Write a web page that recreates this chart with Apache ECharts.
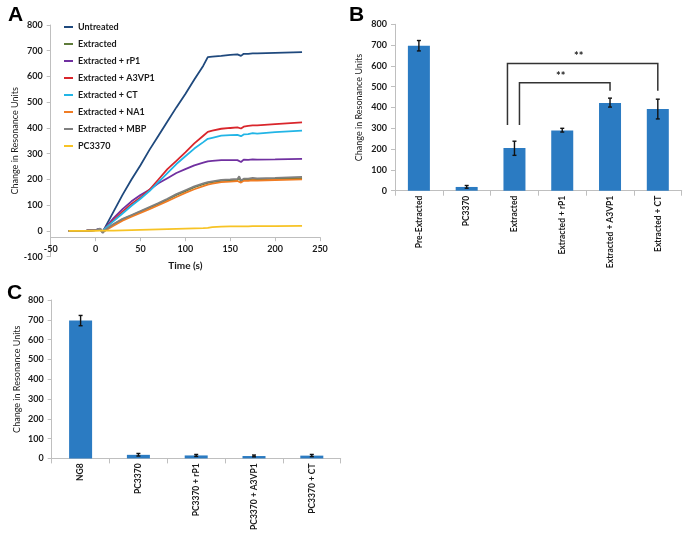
<!DOCTYPE html>
<html>
<head>
<meta charset="utf-8">
<script src="https://cdn.jsdelivr.net/npm/echarts@6/dist/echarts.min.js"></script>
<style>
  html, body { margin: 0; padding: 0; background: #fff; }
  #main { width: 683px; height: 533px; }
</style>
</head>
<body>
<div id="main"></div>
<script>
// panel A - sensorgram traces
var times      = [-30, -20, -10, 0, 5, 8, 10, 20, 30, 40, 50, 60, 70, 80, 90, 100, 110, 120, 125, 130, 140, 150, 158, 160, 162, 165, 170, 175, 177, 180, 200, 230];
var untreated  = [0, 0, 1, 3, 8, -4, 10, 75, 140, 200, 255, 315, 370, 425, 480, 532, 588, 642, 675, 677, 680, 684, 686, 692, 680, 688, 688, 690, 686, 690, 692, 695];
var extracted  = [0, 0, 1, 3, 6, -5, 2, 25, 45, 60, 75, 90, 105, 122, 140, 155, 170, 182, 187, 190, 195, 197, 198, 206, 192, 199, 199, 201, 197, 200, 202, 205];
var extRP1     = [0, 0, 1, 3, 9, -3, 8, 50, 85, 115, 140, 160, 185, 205, 225, 240, 255, 265, 270, 272, 275, 275, 275, 280, 268, 277, 276, 278, 273, 277, 278, 280];
var extA3VP1   = [0, 0, 1, 3, 8, -3, 8, 42, 75, 105, 130, 160, 200, 240, 272, 305, 340, 370, 385, 390, 397, 400, 402, 408, 398, 405, 408, 410, 405, 410, 415, 422];
var extCT      = [0, 0, 1, 3, 8, -3, 8, 38, 68, 98, 125, 155, 190, 225, 260, 290, 320, 345, 358, 362, 370, 372, 373, 378, 368, 375, 376, 380, 374, 378, 384, 390];
var extNA1     = [0, 0, 1, 3, 6, -4, 0, 20, 40, 55, 70, 85, 100, 116, 132, 148, 162, 174, 180, 184, 190, 192, 194, 200, 188, 195, 195, 197, 193, 196, 198, 200];
var extMBP     = [0, 0, 1, 3, 6, -8, 3, 27, 47, 62, 77, 93, 108, 125, 143, 158, 173, 185, 190, 193, 198, 200, 202, 212, 196, 203, 203, 206, 200, 204, 206, 210];
var pc3370     = [0, 0, 0, 0, 1, 1, 0, 1, 2, 3, 4, 5, 6, 7, 8, 9, 10, 11, 12, 15, 17, 18, 18, 18, 18, 18, 18, 19, 19, 19, 19, 20];
var traceNames = ['Untreated', 'Extracted', 'Extracted + rP1', 'Extracted + A3VP1', 'Extracted + CT', 'Extracted + NA1', 'Extracted + MBP', 'PC3370'];
var traces     = [untreated, extracted, extRP1, extA3VP1, extCT, extNA1, extMBP, pc3370];
var traceColors = ['#1F497D', '#5E7B3A', '#7030A0', '#D9262C', '#22B5E6', '#F07C24', '#808080', '#F7C325'];

// panel B
var catsB  = ['Pre-Extracted', 'PC3370', 'Extracted', 'Extracted + rP1', 'Extracted + A3VP1', 'Extracted + CT'];
var meanB  = [697, 18, 205, 290, 422, 393];
var lowB   = [672, 12, 170, 282, 402, 345];
var highB  = [722, 25, 238, 300, 445, 440];
// brackets: [from index, to index, top value, left foot, right foot]
var bracketsB = [[2, 5, 612, 316, 480], [2, 4, 519, 316, 480]];

// panel C
var catsC  = ['NG8', 'PC3370', 'PC3370 + rP1', 'PC3370 + A3VP1', 'PC3370 + CT'];
var meanC  = [697, 18, 15, 12, 14];
var lowC   = [670, 12, 10, 8, 9];
var highC  = [722, 25, 20, 17, 20];

var FONT = 'Lato, "Open Sans", sans-serif';
var tickText = { color: '#1a1a1a', fontSize: 9, fontWeight: 'bold', fontFamily: FONT };
var axisGray = { lineStyle: { color: '#BFBFBF', width: 1 } };
var barColor = '#2B7BC2';

function valueAxis(grid, min, max) {
    return {
        type: 'value', gridIndex: grid, min: min, max: max, interval: 100,
        name: 'Change in Resonance Units', nameLocation: 'middle', nameGap: 30,
        nameTextStyle: { color: '#1a1a1a', fontSize: 9, fontFamily: FONT },
        axisLine: { show: true, onZero: false, lineStyle: axisGray.lineStyle },
        axisTick: { show: true, length: 4, lineStyle: axisGray.lineStyle },
        axisLabel: Object.assign({ margin: 8 }, tickText),
        splitLine: { show: false }
    };
}

function catAxis(grid, cats) {
    return {
        type: 'category', gridIndex: grid, data: cats,
        axisLine: { show: true, lineStyle: axisGray.lineStyle },
        axisTick: { show: true, length: 5, lineStyle: axisGray.lineStyle },
        axisLabel: Object.assign({ rotate: 90, margin: 5, interval: 0 }, tickText, { fontSize: 8.5 }),
        splitLine: { show: false }
    };
}

function errorBars(xi, yi, low, high) {
    return {
        type: 'custom', xAxisIndex: xi, yAxisIndex: yi, z: 10, silent: true,
        data: low.map(function (v, i) { return [i, v, high[i]]; }),
        renderItem: function (params, api) {
            var lo = api.coord([api.value(0), api.value(1)]);
            var hi = api.coord([api.value(0), api.value(2)]);
            var st = { stroke: '#111', lineWidth: 1.4 };
            return {
                type: 'group', children: [
                    { type: 'line', shape: { x1: lo[0], y1: lo[1], x2: hi[0], y2: hi[1] }, style: st },
                    { type: 'line', shape: { x1: hi[0] - 2, y1: hi[1], x2: hi[0] + 2, y2: hi[1] }, style: st },
                    { type: 'line', shape: { x1: lo[0] - 2, y1: lo[1], x2: lo[0] + 2, y2: lo[1] }, style: st }
                ]
            };
        }
    };
}

var lineSeries = traces.map(function (arr, k) {
    return {
        name: traceNames[k], type: 'line', xAxisIndex: 0, yAxisIndex: 0,
        showSymbol: false, symbol: 'none', smooth: false,
        lineStyle: { color: traceColors[k], width: 1.8 },
        itemStyle: { color: traceColors[k] },
        data: times.map(function (t, i) { return [t, arr[i]]; })
    };
});

var option = {
    backgroundColor: '#fff',
    animation: false,
    title: [
        { text: 'A', left: 3, top: 0, textStyle: { fontSize: 21, fontWeight: 'bold', color: '#000', fontFamily: '"Liberation Sans", Arial, sans-serif' } },
        { text: 'B', left: 344, top: 0, textStyle: { fontSize: 21, fontWeight: 'bold', color: '#000', fontFamily: '"Liberation Sans", Arial, sans-serif' } },
        { text: 'C', left: 2, top: 278, textStyle: { fontSize: 21, fontWeight: 'bold', color: '#000', fontFamily: '"Liberation Sans", Arial, sans-serif' } }
    ],
    legend: {
        data: traceNames, orient: 'vertical', left: 59, top: 16,
        icon: 'rect', itemWidth: 9, itemHeight: 2, itemGap: 5,
        textStyle: { color: '#1a1a1a', fontSize: 9, fontWeight: 'bold', fontFamily: FONT, lineHeight: 12 }
    },
    grid: [
        { left: 50.7, top: 25, width: 269.3, height: 231.7 },
        { left: 395, top: 24.3, width: 286.7, height: 166.4 },
        { left: 51.7, top: 300, width: 289, height: 164.3 }
    ],
    xAxis: [
        {
            type: 'value', gridIndex: 0, min: -50, max: 250, interval: 50,
            offset: -19.5,
            axisLine: { show: true, onZero: false, lineStyle: axisGray.lineStyle },
            axisTick: { show: true, length: 4, lineStyle: axisGray.lineStyle },
            axisLabel: Object.assign({ margin: 7 }, tickText),
            splitLine: { show: false },
            name: 'Time (s)', nameLocation: 'middle', nameGap: 24,
            nameTextStyle: { color: '#1a1a1a', fontSize: 10, fontWeight: 'bold', fontFamily: FONT }
        },
        catAxis(1, catsB),
        catAxis(2, catsC)
    ],
    yAxis: [
        Object.assign(valueAxis(0, -100, 800), { nameGap: 29 }),
        Object.assign(valueAxis(1, 0, 800), { nameGap: 31 }),
        Object.assign(valueAxis(2, 0, 800), { nameGap: 30 })
    ],
    series: lineSeries.concat([
        {
            type: 'bar', xAxisIndex: 1, yAxisIndex: 1, barWidth: 22,
            itemStyle: { color: barColor }, data: meanB
        },
        errorBars(1, 1, lowB, highB),
        {
            type: 'custom', xAxisIndex: 1, yAxisIndex: 1, z: 11, silent: true,
            data: bracketsB,
            renderItem: function (params, api) {
                var leftShift = params.dataIndex === 0 ? -7 : 5;
                var top1 = api.coord([api.value(0), api.value(2)]);
                var top2 = api.coord([api.value(1), api.value(2)]);
                var foot1 = api.coord([api.value(0), api.value(3)]);
                var foot2 = api.coord([api.value(1), api.value(4)]);
                var x1 = top1[0] + leftShift, x2 = top2[0];
                return {
                    type: 'group', children: [
                        {
                            type: 'polyline',
                            shape: { points: [[x1, foot1[1]], [x1, top1[1]], [x2, top2[1]], [x2, foot2[1]]] },
                            style: { stroke: '#333', lineWidth: 1.5, fill: null }
                        },
                        {
                            type: 'text', x: (x1 + x2) / 2 - 4, y: top1[1] - 1,
                            style: { text: '**', fill: '#1a1a1a', font: 'bold 11px ' + FONT, align: 'center', verticalAlign: 'bottom' }
                        }
                    ]
                };
            }
        },
        {
            type: 'bar', xAxisIndex: 2, yAxisIndex: 2, barWidth: 23,
            itemStyle: { color: barColor }, data: meanC
        },
        errorBars(2, 2, lowC, highC)
    ])
};

var myChart = echarts.init(document.getElementById('main'), null, { renderer: 'canvas' });
myChart.setOption(option);
</script>
</body>
</html>
